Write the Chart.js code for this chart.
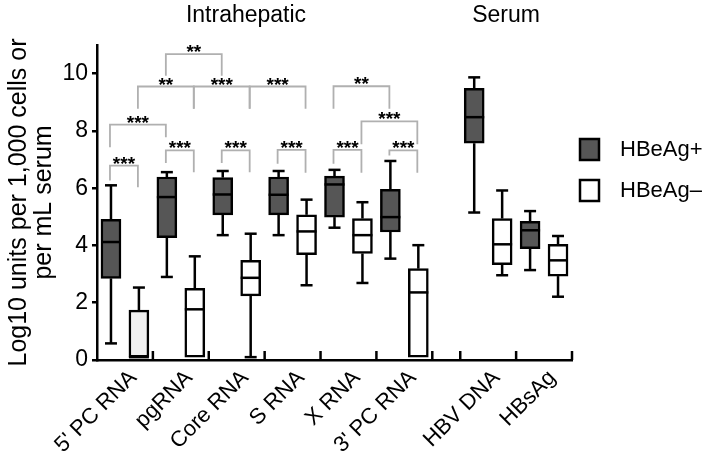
<!DOCTYPE html>
<html><head><meta charset="utf-8">
<script src="https://cdn.jsdelivr.net/npm/chart.js@4.4.1/dist/chart.umd.min.js"></script>
<style>html,body{margin:0;padding:0;background:#fff;}#wrap{width:709px;height:459px;}</style>
</head><body><div id="wrap"><canvas id="c" width="709" height="459"></canvas></div>
<script>
// ---------- data ----------
const categories = ["5' PC RNA", "pgRNA", "Core RNA", "S RNA", "X RNA", "3' PC RNA", "HBV DNA", "HBsAg"];
const seriesNames = ["HBeAg+", "HBeAg\u2013"];
const yTickValues = [0, 2, 4, 6, 8, 10];

const posMin = [0.58, 2.90, 4.36, 4.36, 4.62, 3.54, 5.15, 3.14];
const posQ1  = [2.85, 4.27, 5.07, 5.07, 4.99, 4.47, 7.57, 3.89];
const posMed = [4.12, 5.69, 5.78, 5.77, 6.13, 4.99, 8.48, 4.53];
const posQ3  = [4.91, 6.39, 6.37, 6.39, 6.42, 5.96, 9.49, 4.84];
const posMax = [6.10, 6.56, 6.60, 6.60, 6.64, 6.95, 9.87, 5.20];

const negMin = [0.10, 0.10, 0.10, 2.61, 2.69, 0.10, 2.96, 2.21];
const negQ1  = [0.10, 0.10, 2.24, 3.68, 3.72, 0.10, 3.33, 2.93];
const negMed = [0.10, 1.77, 2.87, 4.49, 4.36, 2.36, 4.04, 3.48];
const negQ3  = [1.74, 2.50, 3.48, 5.07, 4.94, 3.19, 4.94, 4.04];
const negMax = [2.53, 3.62, 4.41, 5.60, 5.51, 4.01, 5.92, 4.33];

// significance brackets: [group A, series A, group B, series B, top, leg A end, leg B end, label]
const brackets = [
  [0, 0, 0, 1, 6.79, 6.27, 6.03, '***'],
  [0, 0, 1, 0, 8.22, 7.43, 7.78, '***'],
  [1, 0, 1, 1, 7.32, 6.88, 6.56, '***'],
  [2, 0, 2, 1, 7.32, 6.88, 6.56, '***'],
  [0, 1, 1, 1, 9.55, 8.77, 8.77, '**'],
  [1, 1, 2, 1, 9.55, 8.77, 8.77, '***'],
  [2, 1, 3, 1, 9.55, 8.77, 8.77, '***'],
  [1, 0, 2, 0, 10.68, 9.93, 9.93, '**'],
  [3, 0, 3, 1, 7.34, 6.85, 6.54, '***'],
  [4, 0, 5, 0, 9.56, 8.77, 8.77, '**'],
  [4, 1, 5, 1, 8.33, 7.53, 7.53, '***'],
  [4, 0, 4, 1, 7.34, 6.85, 6.54, '***'],
  [5, 0, 5, 1, 7.32, 7.14, 6.54, '***']
];

// ---------- layout helpers ----------
const FONT = "'Liberation Sans', Arial, Helvetica, sans-serif";
const DARK = '#565656';
// groups 0-5 intrahepatic, then one empty slot, then serum groups
function slotOf(g, s) { return (g < 6 ? 2 * g : 2 * g + 1) + s; }
const labelShift = 0.3;
const xTickValues = categories.map((c, g) => slotOf(g, 0) + 0.5 + labelShift);
const boundaries = (() => {
  const set = new Set();
  categories.forEach((c, g) => { set.add(slotOf(g, 0) - 0.5); set.add(slotOf(g, 1) + 0.5); });
  return [...set].filter(v => v > -0.5).sort((a, b) => a - b);
})();

const stats = [
  {min: posMin, q1: posQ1, med: posMed, q3: posQ3, max: posMax},
  {min: negMin, q1: negQ1, med: negMed, q3: negQ3, max: negMax}
];

const datasets = stats.map((st, s) => ({
  label: seriesNames[s],
  data: categories.map((c, g) => ({x: slotOf(g, s), y: [st.q1[g], st.q3[g]]})),
  backgroundColor: s === 0 ? DARK : categories.map((c, g) => g === 0 ? '#f0f0f0' : '#ffffff'),
  legendColor: s === 0 ? DARK : '#ffffff',
  borderColor: '#000',
  borderWidth: 2.5,
  borderSkipped: false,
  barThickness: 20,
  grouped: false
}));

const boxPlugin = {
  id: 'boxplot',
  beforeDatasetsDraw(chart) {
    const {ctx, scales: {x, y}} = chart;
    ctx.save();
    ctx.strokeStyle = '#000';
    ctx.lineWidth = 2.5;
    stats.forEach((st, s) => {
      categories.forEach((c, g) => {
        const px = x.getPixelForValue(slotOf(g, s));
        const seg = (a, b) => {
          if (Math.abs(a - b) < 1e-6) return;
          ctx.beginPath();
          ctx.moveTo(px, y.getPixelForValue(a));
          ctx.lineTo(px, y.getPixelForValue(b));
          ctx.stroke();
          ctx.beginPath();
          ctx.moveTo(px - 6, y.getPixelForValue(b));
          ctx.lineTo(px + 6, y.getPixelForValue(b));
          ctx.stroke();
        };
        seg(st.q3[g], st.max[g]);
        seg(st.q1[g], st.min[g]);
      });
    });
    ctx.restore();
  },
  afterDatasetsDraw(chart) {
    const {ctx, scales: {x, y}} = chart;
    ctx.save();
    ctx.strokeStyle = '#000';
    ctx.lineWidth = 2.5;
    stats.forEach((st, s) => {
      categories.forEach((c, g) => {
        const px = x.getPixelForValue(slotOf(g, s));
        const py = y.getPixelForValue(st.med[g]);
        ctx.beginPath();
        ctx.moveTo(px - 10, py);
        ctx.lineTo(px + 10, py);
        ctx.stroke();
      });
    });
    ctx.restore();
  },
  afterDraw(chart) {
    const {ctx, scales: {x, y}} = chart;
    ctx.save();
    // x-axis tick marks at group boundaries (pointing inward)
    ctx.strokeStyle = '#000';
    ctx.lineWidth = 2.5;
    const base = y.getPixelForValue(0);
    boundaries.forEach(b => {
      const px = x.getPixelForValue(b);
      ctx.beginPath();
      ctx.moveTo(px, base);
      ctx.lineTo(px, base - 9);
      ctx.stroke();
    });
    // brackets
    ctx.strokeStyle = '#b0b0b0';
    ctx.lineWidth = 1.8;
    ctx.fillStyle = '#000';
    ctx.font = 'bold 19px ' + FONT;
    ctx.textAlign = 'center';
    ctx.textBaseline = 'alphabetic';
    brackets.forEach(([ga, sa, gb, sb, top, la, lb, lab]) => {
      const x1 = x.getPixelForValue(slotOf(ga, sa)) - 1;
      const x2 = x.getPixelForValue(slotOf(gb, sb)) - 1;
      const yt = y.getPixelForValue(top);
      ctx.beginPath();
      ctx.moveTo(x1, y.getPixelForValue(la));
      ctx.lineTo(x1, yt);
      ctx.lineTo(x2, yt);
      ctx.lineTo(x2, y.getPixelForValue(lb));
      ctx.stroke();
      ctx.fillText(lab, (x1 + x2) / 2, yt + 4);
    });
    // section titles
    ctx.font = '23px ' + FONT;
    ctx.textBaseline = 'middle';
    ctx.fillText('Intrahepatic', 246, 16);
    ctx.fillText('Serum', 506, 16);
    // legend
    ctx.textAlign = 'left';
    ctx.font = '22px ' + FONT;
    chart.data.datasets.forEach((ds, i) => {
      const ly = 149 + i * 41;
      ctx.fillStyle = ds.legendColor;
      ctx.fillRect(580, ly - 10, 19, 21);
      ctx.strokeStyle = '#000';
      ctx.lineWidth = 2.5;
      ctx.strokeRect(580, ly - 10, 19, 21);
      ctx.fillStyle = '#000';
      ctx.fillText(ds.label, 620, ly + 1);
    });
    ctx.restore();
  }
};

new Chart(document.getElementById('c'), {
  type: 'bar',
  data: {datasets},
  plugins: [boxPlugin],
  options: {
    responsive: false,
    animation: false,
    devicePixelRatio: 1,
    layout: {padding: {left: 0, top: 45, right: 137, bottom: 0}},
    plugins: {legend: {display: false}, tooltip: {enabled: false}},
    scales: {
      x: {
        type: 'linear',
        min: -0.5,
        max: 16.5,
        offset: false,
        afterFit(s) { s.height = 99; },
        afterBuildTicks(s) { s.ticks = xTickValues.map(v => ({value: v})); },
        grid: {display: false, drawTicks: false, offset: false},
        border: {display: true, color: '#000', width: 2.5},
        ticks: {
          autoSkip: false,
          minRotation: 45,
          maxRotation: 45,
          padding: 5,
          color: '#000',
          font: {size: 22, family: FONT},
          callback(v, i) { return categories[i]; }
        }
      },
      y: {
        min: 0,
        max: 11,
        afterFit(s) { s.width = 97; },
        afterBuildTicks(s) { s.ticks = yTickValues.map(v => ({value: v})); },
        grid: {display: true, drawOnChartArea: false, drawTicks: true, tickLength: 5, color: '#000', lineWidth: 2.5},
        border: {display: true, color: '#000', width: 2.5},
        ticks: {color: '#000', padding: 4, font: {size: 23, family: FONT}},
        title: {
          display: true,
          text: ['Log10 units per 1,000 cells or', 'per mL serum'],
          color: '#000',
          font: {size: 25, family: FONT, lineHeight: 1.0},
          padding: {top: 7, bottom: 0}
        }
      }
    }
  }
});
</script></body></html>
